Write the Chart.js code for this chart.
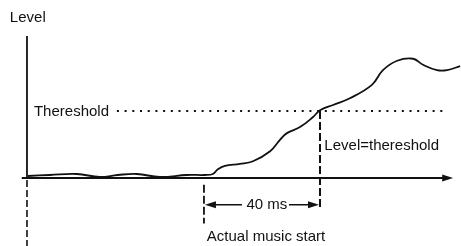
<!DOCTYPE html>
<html>
<head>
<meta charset="utf-8">
<script src="https://cdn.jsdelivr.net/npm/chart.js@4/dist/chart.umd.min.js"></script>
<style>
    body { margin: 0; background: #fff; }
    #wrap { width: 461px; height: 246px; }
</style>
</head>
<body>
<div id="wrap"><canvas id="levelChart" width="461" height="246"></canvas></div>
<script>
// time in ms relative to the actual music start, level relative to the threshold
const timeMs = [-60.7, -53.1, -43.8, -35.9, -29.7, -23.1, -15.2, -5.9, 0.3, 3.1, 4.8, 7.2, 12.4, 16.9, 22.8, 26.2, 28.6, 33.1, 37.6, 40.0, 44.5, 50.3, 57.9, 61.7, 66.6, 72.1, 75.5, 80.3, 83.8, 88.3];
const level  = [0.03, 0.045, 0.06, 0.015, 0.045, 0.06, 0.015, 0.045, 0.045, 0.06, 0.13, 0.18, 0.21, 0.25, 0.40, 0.57, 0.67, 0.76, 0.91, 1.01, 1.09, 1.19, 1.39, 1.61, 1.75, 1.78, 1.69, 1.61, 1.61, 1.67];

const thresholdLevel = 1.0;
const thresholdSpan = [-30, 83];
const musicStartMs = 0;
const crossingMs = 40;
const axisTimeMs = -61;
const xAxisSpan = [-62.8, 85.9];
const yAxisTop = 2.12;

// axes decoration and labels
const annotations = {
    id: 'annotations',
    afterDatasetsDraw(chart) {
        const ctx = chart.ctx;
        const x = chart.scales.x, y = chart.scales.y;
        const px = (v) => x.getPixelForValue(v);
        const py = (v) => y.getPixelForValue(v);

        ctx.save();
        ctx.fillStyle = '#111';

        // arrow heads
        function head(tipX, tipY, dir, len, half) {
            ctx.beginPath();
            ctx.moveTo(tipX, tipY);
            ctx.lineTo(tipX - dir * len, tipY - half);
            ctx.lineTo(tipX - dir * len, tipY + half);
            ctx.closePath();
            ctx.fill();
        }
        head(px(xAxisSpan[1]), py(0), 1, 11, 3.5);

        // 40 ms dimension
        const dimY = py(-0.40);
        ctx.strokeStyle = '#111';
        ctx.lineWidth = 1.6;
        ctx.beginPath();
        ctx.moveTo(px(musicStartMs) + 8, dimY);
        ctx.lineTo(px(musicStartMs) + 38, dimY);
        ctx.moveTo(px(musicStartMs) + 85, dimY);
        ctx.lineTo(px(crossingMs) - 8, dimY);
        ctx.stroke();
        head(px(musicStartMs) + 1, dimY, -1, 11, 3.5);
        head(px(crossingMs) - 1, dimY, 1, 11, 3.5);

        ctx.font = '15px "Liberation Sans", Arial, sans-serif';
        ctx.textBaseline = 'middle';
        ctx.textAlign = 'left';
        ctx.fillText('Level', px(-66.9), py(2.39));
        ctx.fillText('Thereshold', px(-58.6), py(thresholdLevel) + 1);
        ctx.fillText('Level=thereshold', px(41.5), py(0.48));
        ctx.fillText('Actual music start', px(1), py(-0.88));
        ctx.textAlign = 'center';
        ctx.fillText('40 ms', px(21.7), dimY);
        ctx.restore();
    }
};

const line = (data, extra) => Object.assign({
    data: data,
    borderColor: '#111',
    borderWidth: 1.6,
    pointRadius: 0,
    fill: false,
    tension: 0
}, extra);

new Chart(document.getElementById('levelChart').getContext('2d'), {
    type: 'line',
    data: {
        datasets: [
            line(timeMs.map((t, i) => ({ x: t, y: level[i] })), { borderWidth: 1.8, tension: 0.4 }),
            line([{ x: thresholdSpan[0], y: thresholdLevel }, { x: thresholdSpan[1], y: thresholdLevel }], { borderWidth: 2, borderDash: [2, 5.7] }),
            line([{ x: xAxisSpan[0], y: 0 }, { x: xAxisSpan[1] - 3, y: 0 }], { borderWidth: 1.8 }),
            line([{ x: axisTimeMs, y: 0 }, { x: axisTimeMs, y: yAxisTop }], { borderWidth: 1.8 }),
            line([{ x: axisTimeMs, y: -0.03 }, { x: axisTimeMs, y: -1.02 }], { borderWidth: 1.6, borderDash: [7, 3] }),
            line([{ x: musicStartMs, y: -0.1 }, { x: musicStartMs, y: -0.68 }], { borderWidth: 1.8, borderDash: [8, 3] }),
            line([{ x: crossingMs, y: thresholdLevel }, { x: crossingMs, y: -0.45 }], { borderWidth: 2, borderDash: [8, 3] })
        ]
    },
    options: {
        responsive: false,
        animation: false,
        devicePixelRatio: 1,
        layout: { padding: 0 },
        plugins: { legend: { display: false }, tooltip: { enabled: false } },
        scales: {
            x: { type: 'linear', min: -70.3, max: 88.6, display: false },
            y: { min: -1.015, max: 2.657, display: false }
        }
    },
    plugins: [annotations]
});
</script>
</body>
</html>
